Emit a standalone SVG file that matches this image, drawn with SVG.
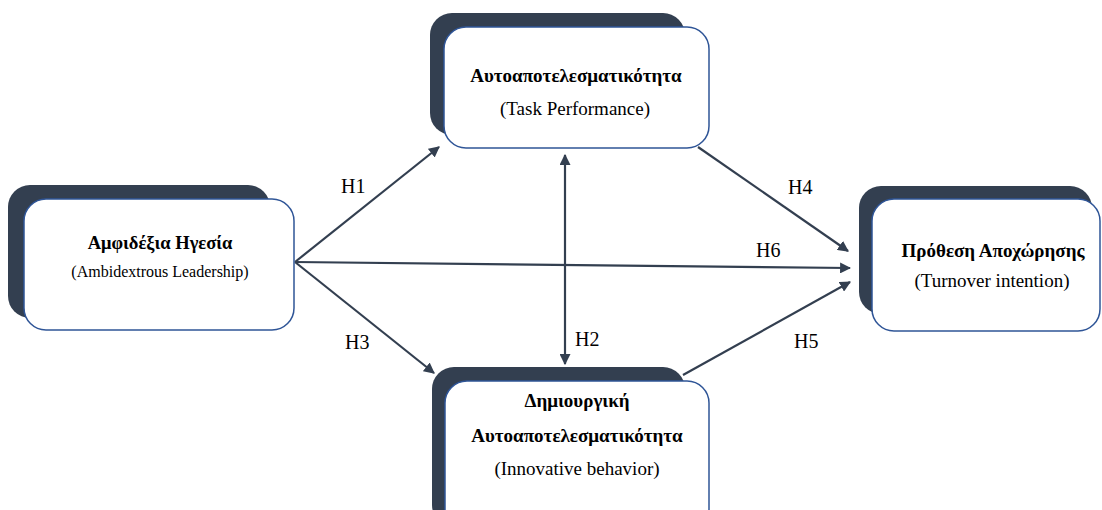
<svg xmlns="http://www.w3.org/2000/svg" width="1102" height="510" viewBox="0 0 1102 510">
<style>
.sh{fill:#333f50}
.bx{fill:#ffffff;stroke:#2f5597;stroke-width:1.5}
.t{font-family:'Liberation Serif','DejaVu Serif',serif;fill:#000;text-anchor:middle}
.b{font-weight:bold;font-size:19px}
.n{font-size:19px}
.lb{font-family:'Liberation Serif','DejaVu Serif',serif;font-size:20px;fill:#000}
.c{stroke:#333f50;stroke-width:2.2;fill:none}
</style>
<defs>
<marker id="ah" viewBox="0 0 10 10" refX="9" refY="5" markerWidth="5" markerHeight="5" orient="auto-start-reverse" markerUnits="strokeWidth">
<path d="M0,0 L10,5 L0,10 z" fill="#333f50"/>
</marker>
</defs>
<g id="connectors">
<line class="c" x1="295" y1="262" x2="439" y2="147" marker-end="url(#ah)"/>
<line class="c" x1="295" y1="262" x2="434" y2="373" marker-end="url(#ah)"/>
<line class="c" x1="295" y1="262" x2="850" y2="268" marker-end="url(#ah)"/>
<line class="c" x1="565" y1="155" x2="565" y2="364" marker-start="url(#ah)" marker-end="url(#ah)"/>
<line class="c" x1="698" y1="147" x2="848" y2="251" marker-end="url(#ah)"/>
<line class="c" x1="683" y1="375" x2="850" y2="282" marker-end="url(#ah)"/>
<text class="lb" x="341" y="193">H1</text>
<text class="lb" x="345" y="349">H3</text>
<text class="lb" x="575" y="346">H2</text>
<text class="lb" x="788" y="194">H4</text>
<text class="lb" x="756" y="257">H6</text>
<text class="lb" x="794" y="348">H5</text>
</g>
<g id="node-ambidextrous">
<rect class="sh" x="8" y="185" width="262" height="133" rx="22"/>
<rect class="bx" x="24" y="199" width="270" height="131" rx="22"/>
<text class="t" style="font-weight:bold;font-size:18.5px" x="160" y="249">Αμφιδέξια Ηγεσία</text>
<text class="t" style="font-size:16px" x="160" y="277">(Ambidextrous Leadership)</text>
</g>
<g id="node-task">
<rect class="sh" x="430" y="13" width="255" height="122" rx="22"/>
<rect class="bx" x="444" y="27" width="265" height="121" rx="22"/>
<text class="t b" x="576" y="82">Αυτοαποτελεσματικότητα</text>
<text class="t n" x="575" y="115">(Task Performance)</text>
</g>
<g id="node-innovative">
<rect class="sh" x="432" y="367" width="253" height="160" rx="22"/>
<rect class="bx" x="445" y="381" width="264" height="150" rx="22"/>
<text class="t b" x="577" y="407">Δημιουργική</text>
<text class="t b" x="577" y="442">Αυτοαποτελεσματικότητα</text>
<text class="t n" x="577" y="475">(Innovative behavior)</text>
</g>
<g id="node-turnover">
<rect class="sh" x="859" y="186" width="233" height="128" rx="22"/>
<rect class="bx" x="872" y="199" width="228" height="132" rx="22"/>
<text class="t b" x="993" y="257">Πρόθεση Αποχώρησης</text>
<text class="t n" x="992" y="287">(Turnover intention)</text>
</g>
</svg>
